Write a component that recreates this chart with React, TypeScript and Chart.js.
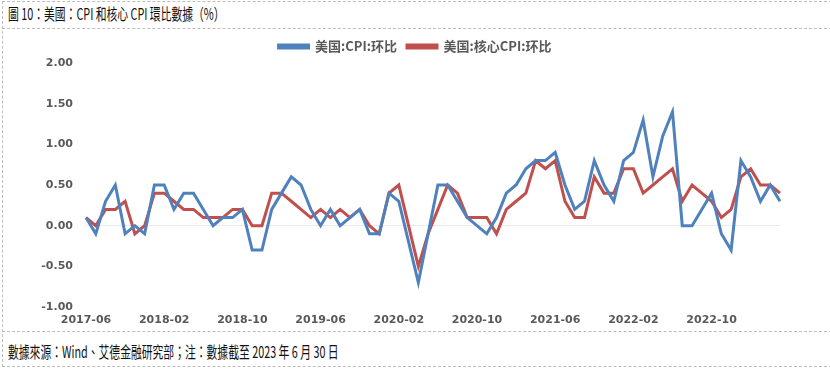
import React, { useEffect, useRef } from "react";
import { Chart, registerables } from "chart.js";

Chart.register(...registerables);

const startYear = 2017;
const startMonth = 6;
const monthCount = 72;

const categories: string[] = Array.from({ length: monthCount }, (_, i) => {
  const m = startMonth - 1 + i;
  const y = startYear + Math.floor(m / 12);
  const mm = (m % 12) + 1;
  return `${y}-${mm < 10 ? "0" + mm : mm}`;
});

const cpiMoM: number[] = [
  0.1, -0.1, 0.3, 0.5, -0.1, 0.0, -0.1, 0.5, 0.5, 0.2, 0.4, 0.4,
  0.2, 0.0, 0.1, 0.1, 0.2, -0.3, -0.3, 0.2, 0.4, 0.6, 0.5, 0.2,
  0.0, 0.2, 0.0, 0.1, 0.2, -0.1, -0.1, 0.4, 0.3, -0.2, -0.7, -0.1,
  0.5, 0.5, 0.3, 0.1, 0.0, -0.1, 0.1, 0.4, 0.5, 0.7, 0.8, 0.8,
  0.9, 0.5, 0.2, 0.3, 0.8, 0.5, 0.3, 0.8, 0.9, 1.3, 0.6, 1.1,
  1.4, 0.0, 0.0, 0.2, 0.4, -0.1, -0.3, 0.8, 0.6, 0.3, 0.5, 0.3,
];

const coreCpiMoM: number[] = [
  0.1, 0.0, 0.2, 0.2, 0.3, -0.1, 0.0, 0.4, 0.4, 0.3, 0.2, 0.2,
  0.1, 0.1, 0.1, 0.2, 0.2, 0.0, 0.0, 0.4, 0.4, 0.3, 0.2, 0.1,
  0.2, 0.1, 0.2, 0.1, 0.2, 0.0, -0.1, 0.4, 0.5, 0.0, -0.5, -0.1,
  0.2, 0.5, 0.4, 0.1, 0.1, 0.1, -0.1, 0.2, 0.3, 0.4, 0.8, 0.7,
  0.8, 0.3, 0.1, 0.1, 0.6, 0.4, 0.4, 0.7, 0.7, 0.4, 0.5, 0.6,
  0.7, 0.3, 0.5, 0.4, 0.3, 0.1, 0.2, 0.6, 0.7, 0.5, 0.5, 0.4,
];

const seriesNames = ["美国:CPI:环比", "美国:核心CPI:环比"];
const labelStep = 8;
const yMin = -1;
const yMax = 2;
const yStep = 0.5;

const titleText = "圖 10：美國：CPI 和核心 CPI 環比數據（%）";
const footerText = "數據來源：Wind、艾德金融研究部；注：數據截至 2023 年 6 月 30 日";

const legendShift = {
  id: "legendShift",
  afterLayout(chart: any) {
    if (chart.legend) {
      chart.legend.left += 50;
    }
  },
};

export default function App() {
  const canvasRef = useRef<HTMLCanvasElement | null>(null);

  useEffect(() => {
    if (!canvasRef.current) return;
    const chart = new Chart(canvasRef.current, {
      type: "line",
      data: {
        labels: categories,
        datasets: [
          {
            label: seriesNames[0],
            data: cpiMoM,
            borderColor: "#4F81BD",
            backgroundColor: "#4F81BD",
            borderWidth: 3,
            pointRadius: 0,
            tension: 0,
          },
          {
            label: seriesNames[1],
            data: coreCpiMoM,
            borderColor: "#C0504D",
            backgroundColor: "#C0504D",
            borderWidth: 3,
            pointRadius: 0,
            tension: 0,
          },
        ],
      },
      plugins: [legendShift],
      options: {
        animation: false,
        responsive: false,
        maintainAspectRatio: false,
        layout: { padding: { left: 0, right: 50, top: 0, bottom: 0 } },
        plugins: {
          legend: {
            position: "top",
            labels: {
              boxWidth: 30,
              boxHeight: 3,
              padding: 10,
              color: "#595959",
              font: { family: "'Noto Sans CJK SC', 'DejaVu Sans', sans-serif", size: 13, weight: "bold" },
            },
          },
          tooltip: { enabled: false },
        },
        scales: {
          x: {
            offset: false,
            afterFit: (scale: any) => {
              scale.height = 23;
            },
            grid: { display: false, drawTicks: false },
            border: { display: false },
            ticks: {
              autoSkip: false,
              maxRotation: 0,
              minRotation: 0,
              padding: 7,
              color: "#595959",
              font: { family: "'DejaVu Sans', sans-serif", size: 11, weight: "bold" },
              callback: (_v: any, i: number) => (i % labelStep === 0 ? categories[i] : ""),
            },
          },
          y: {
            min: yMin,
            max: yMax,
            afterFit: (scale: any) => {
              scale.width = 86;
            },
            grid: {
              drawTicks: false,
              color: (ctx: any) => (ctx.tick && ctx.tick.value === 0 ? "#ebebeb" : "rgba(0,0,0,0)"),
              lineWidth: 1,
            },
            border: { display: false },
            ticks: {
              stepSize: yStep,
              padding: 13,
              color: "#595959",
              font: { family: "'DejaVu Sans', sans-serif", size: 11, weight: "bold" },
              callback: (v: any) => Number(v).toFixed(2),
            },
          },
        },
      },
    });
    return () => chart.destroy();
  }, []);

  const dash = "1px dashed #bdbdbd";
  const textStyle: React.CSSProperties = {
    position: "absolute",
    left: 8,
    fontFamily: "'Noto Sans CJK TC', sans-serif",
    fontSize: 16,
    color: "#111",
    whiteSpace: "nowrap",
    transform: "scaleX(0.675)",
    transformOrigin: "left center",
    lineHeight: "16px",
  };

  return (
    <div style={{ position: "fixed", left: 0, top: 0, width: 830, height: 369, background: "#fff", overflow: "hidden" }}>
      <div style={{ position: "absolute", left: 2, top: 1, width: 830, height: 0, borderTop: dash }} />
      <div style={{ position: "absolute", left: 2, top: 28, width: 830, height: 0, borderTop: dash }} />
      <div style={{ position: "absolute", left: 2, top: 331, width: 830, height: 0, borderTop: dash }} />
      <div style={{ position: "absolute", left: 2, top: 366, width: 830, height: 0, borderTop: dash }} />
      <div style={{ position: "absolute", left: 2, top: 1, width: 0, height: 366, borderLeft: dash }} />
      <div style={{ ...textStyle, top: 5 }}>{titleText}</div>
      <div style={{ ...textStyle, top: 343 }}>{footerText}</div>
      <canvas ref={canvasRef} width={830} height={300} style={{ position: "absolute", left: 0, top: 30, width: 830, height: 300 }} />
    </div>
  );
}
